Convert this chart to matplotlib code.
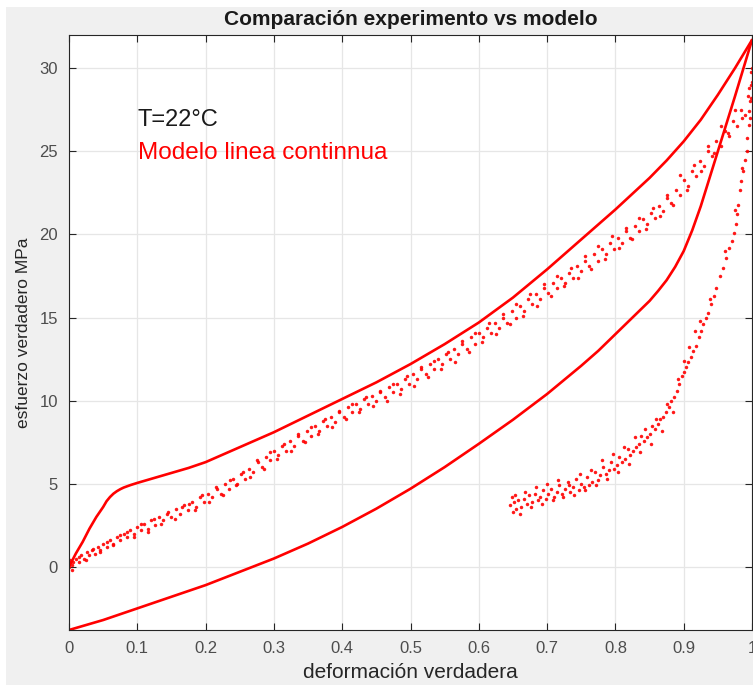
import matplotlib
matplotlib.use("Agg")
import matplotlib.pyplot as plt
from matplotlib.patches import Rectangle

# ---- data ----
model_load_x = [0.0, 0.01, 0.02, 0.03, 0.04, 0.05, 0.055, 0.06, 0.065, 0.07, 0.075, 0.08,
                0.09, 0.10, 0.125, 0.15, 0.175, 0.20, 0.25, 0.30, 0.35, 0.40, 0.45, 0.50,
                0.55, 0.60, 0.65, 0.70, 0.75, 0.80, 0.85, 0.875, 0.90, 0.925, 0.95, 0.975, 1.00]
model_load_y = [0.0, 0.8, 1.5, 2.3, 3.0, 3.6, 3.95, 4.2, 4.4, 4.55, 4.67, 4.77,
                4.92, 5.05, 5.35, 5.65, 5.95, 6.3, 7.2, 8.1, 9.1, 10.1, 11.1, 12.2,
                13.4, 14.7, 16.2, 17.9, 19.7, 21.5, 23.4, 24.45, 25.6, 26.9, 28.4, 30.0, 31.7]

model_unload_x = [1.00, 0.975, 0.95, 0.925, 0.9125, 0.90, 0.8875, 0.875, 0.8625, 0.85, 0.825,
                  0.80, 0.775, 0.75, 0.70, 0.65, 0.60, 0.55, 0.50, 0.45, 0.40, 0.35, 0.30,
                  0.25, 0.20, 0.15, 0.10, 0.05, 0.0]
model_unload_y = [31.7, 28.3, 25.0, 21.7, 20.25, 19.0, 18.05, 17.25, 16.6, 16.0, 15.0,
                  14.0, 13.0, 12.1, 10.4, 8.85, 7.4, 6.0, 4.7, 3.5, 2.4, 1.4, 0.5,
                  -0.3, -1.1, -1.8, -2.5, -3.2, -3.8]

exp_load = [
    (0.000, 0.0), (0.002, 0.4), (0.004, -0.2), (0.006, 0.3), (0.010, 0.5), (0.014, 0.3),
    (0.018, 0.7), (0.022, 0.5), (0.026, 0.9), (0.030, 0.7), (0.034, 1.0), (0.038, 0.8),
    (0.042, 1.2), (0.046, 1.0), (0.050, 1.4), (0.055, 1.2), (0.060, 1.6), (0.065, 1.4),
    (0.070, 1.8), (0.075, 1.6), (0.080, 2.0), (0.085, 1.8), (0.090, 2.2), (0.095, 2.0),
    (0.100, 2.4), (0.105, 2.2), (0.110, 2.6), (0.115, 2.3), (0.120, 2.8), (0.126, 2.5),
    (0.132, 3.0), (0.138, 2.8), (0.144, 3.2), (0.150, 3.0), (0.156, 3.5), (0.162, 3.2),
    (0.168, 3.7), (0.174, 3.4), (0.180, 3.9), (0.186, 3.6), (0.192, 4.2), (0.198, 3.9),
    (0.204, 4.4), (0.210, 4.2), (0.216, 4.7), (0.222, 4.4), (0.228, 5.0), (0.234, 4.7),
    (0.240, 5.3), (0.246, 5.0), (0.252, 5.6), (0.258, 5.3), (0.264, 5.9), (0.270, 5.7),
    (0.276, 6.3), (0.282, 6.0), (0.288, 6.6), (0.294, 6.4), (0.300, 7.0), (0.306, 6.7),
    (0.312, 7.3), (0.318, 7.0), (0.324, 7.6), (0.330, 7.3), (0.336, 7.9), (0.342, 7.6),
    (0.348, 8.2), (0.354, 7.9), (0.360, 8.5), (0.366, 8.2), (0.372, 8.8), (0.378, 8.5),
    (0.384, 9.0), (0.390, 8.7), (0.396, 9.3), (0.402, 9.0), (0.408, 9.6), (0.414, 9.3),
    (0.420, 9.8), (0.426, 9.5), (0.432, 10.1), (0.438, 9.8), (0.444, 10.3), (0.450, 10.0),
    (0.456, 10.5), (0.462, 10.2), (0.468, 10.8), (0.474, 10.5), (0.480, 11.0), (0.486, 10.7),
    (0.492, 11.3), (0.498, 11.0), (0.504, 11.6), (0.510, 11.3), (0.516, 11.9), (0.522, 11.6),
    (0.528, 12.2), (0.534, 11.9), (0.540, 12.5), (0.546, 12.2), (0.552, 12.8), (0.558, 12.5),
    (0.564, 13.1), (0.570, 12.8), (0.576, 13.4), (0.582, 13.1), (0.588, 13.8), (0.594, 13.4),
    (0.600, 14.1), (0.606, 13.8), (0.612, 14.4), (0.618, 14.1), (0.624, 14.7), (0.630, 14.4),
    (0.636, 15.0), (0.642, 14.7), (0.648, 15.4), (0.654, 15.0), (0.660, 15.7), (0.666, 15.4),
    (0.672, 16.1), (0.678, 15.8), (0.684, 16.4), (0.690, 16.1), (0.696, 16.8), (0.702, 16.5),
    (0.708, 17.1), (0.714, 16.8), (0.720, 17.4), (0.726, 17.1), (0.732, 17.7), (0.738, 17.4),
    (0.744, 18.1), (0.750, 17.8), (0.756, 18.4), (0.762, 18.1), (0.768, 18.8), (0.774, 18.4),
    (0.780, 19.1), (0.786, 18.8), (0.792, 19.5), (0.798, 19.1), (0.804, 19.8), (0.810, 19.5),
    (0.816, 20.2), (0.822, 19.8), (0.828, 20.5), (0.834, 20.2), (0.840, 20.9), (0.846, 20.6),
    (0.852, 21.3), (0.858, 21.0), (0.864, 21.7), (0.870, 21.4), (0.876, 22.2), (0.882, 21.9),
    (0.888, 22.7), (0.894, 22.4), (0.900, 23.3), (0.906, 22.9), (0.912, 23.8), (0.918, 23.5),
    (0.924, 24.4), (0.930, 24.1), (0.936, 25.0), (0.942, 24.7), (0.948, 25.6), (0.954, 25.3),
    (0.960, 26.2), (0.966, 25.9), (0.972, 26.8), (0.978, 26.5), (0.984, 27.5), (0.990, 27.2),
    (0.994, 28.3), (0.997, 28.0), (1.000, 29.2), (0.999, 29.8),
]

exp_load_extra = [
    (0.005, 0.1), (0.015, 0.6), (0.025, 0.4), (0.035, 1.1), (0.045, 0.9), (0.055, 1.5),
    (0.065, 1.3), (0.075, 1.9), (0.085, 2.1), (0.095, 1.8), (0.105, 2.6), (0.115, 2.1),
    (0.125, 2.9), (0.135, 2.6), (0.145, 3.3), (0.155, 2.9), (0.165, 3.6), (0.175, 3.8),
    (0.185, 3.4), (0.195, 4.3), (0.205, 3.9), (0.215, 4.8), (0.225, 4.3), (0.235, 5.2),
    (0.245, 4.9), (0.255, 5.7), (0.265, 5.4), (0.275, 6.4), (0.285, 5.9), (0.295, 6.9),
    (0.305, 6.5), (0.315, 7.4), (0.325, 7.0), (0.335, 8.0), (0.345, 7.5), (0.355, 8.4),
    (0.365, 8.0), (0.375, 8.9), (0.385, 8.4), (0.395, 9.4), (0.405, 8.9), (0.415, 9.8),
    (0.425, 9.3), (0.435, 10.2), (0.445, 9.7), (0.455, 10.6), (0.465, 10.0), (0.475, 11.0),
    (0.485, 10.4), (0.495, 11.5), (0.505, 10.9), (0.515, 12.0), (0.525, 11.4), (0.535, 12.4),
    (0.545, 11.9), (0.555, 12.9), (0.565, 12.3), (0.575, 13.6), (0.585, 12.9), (0.595, 14.1),
    (0.605, 13.5), (0.615, 14.7), (0.625, 14.0), (0.635, 15.2), (0.645, 14.6), (0.655, 15.8),
    (0.665, 15.1), (0.675, 16.4), (0.685, 15.7), (0.695, 17.0), (0.705, 16.3), (0.715, 17.5),
    (0.725, 16.9), (0.735, 18.0), (0.745, 17.4), (0.755, 18.7), (0.765, 17.9), (0.775, 19.3),
    (0.785, 18.5), (0.795, 19.9), (0.805, 19.2), (0.815, 20.4), (0.825, 19.7), (0.835, 21.0),
    (0.845, 20.3), (0.855, 21.6), (0.865, 21.1), (0.875, 22.4), (0.885, 21.8), (0.895, 23.6),
    (0.905, 22.7), (0.915, 24.2), (0.925, 23.8), (0.935, 25.3), (0.945, 24.9), (0.955, 26.5),
    (0.965, 26.1), (0.975, 27.5), (0.985, 27.0), (0.995, 28.8),
]

exp_unload = [
    (1.000, 30.0), (0.999, 29.0), (0.998, 28.2), (0.996, 27.4), (0.995, 26.6), (0.993, 25.8),
    (0.992, 25.0), (0.990, 24.5), (0.987, 23.8), (0.984, 23.2), (0.982, 22.7), (0.980, 21.8),
    (0.978, 21.2), (0.976, 20.6), (0.973, 20.1), (0.970, 19.6), (0.966, 19.2), (0.962, 18.6),
    (0.957, 18.0), (0.953, 17.5), (0.948, 16.8), (0.945, 16.3), (0.940, 15.8), (0.936, 15.3),
    (0.932, 15.0), (0.928, 14.6), (0.926, 14.2), (0.922, 13.8), (0.918, 13.3), (0.914, 13.0),
    (0.910, 12.6), (0.906, 12.3), (0.903, 12.0), (0.900, 11.7), (0.897, 11.5), (0.893, 11.0),
    (0.890, 10.6), (0.886, 10.2), (0.882, 10.0), (0.878, 9.6), (0.874, 9.3), (0.870, 9.0),
    (0.866, 8.9), (0.862, 8.6), (0.858, 8.3), (0.854, 8.5), (0.850, 8.0), (0.846, 7.8),
    (0.842, 7.6), (0.838, 7.9), (0.834, 7.4), (0.830, 7.2), (0.826, 7.0), (0.822, 6.7),
    (0.818, 7.1), (0.814, 6.5), (0.810, 6.3), (0.806, 6.6), (0.802, 6.1), (0.798, 5.9),
    (0.794, 6.3), (0.790, 5.8), (0.786, 5.6), (0.782, 6.0), (0.778, 5.5), (0.774, 5.2),
    (0.770, 5.7), (0.766, 5.1), (0.762, 4.9), (0.758, 5.4), (0.754, 4.8), (0.750, 5.0),
    (0.746, 4.6), (0.742, 5.3), (0.738, 4.8), (0.734, 4.5), (0.730, 5.1), (0.726, 4.7),
    (0.722, 4.4), (0.718, 4.9), (0.714, 4.5), (0.710, 4.2), (0.706, 4.7), (0.702, 4.4),
    (0.698, 4.1), (0.694, 4.6), (0.690, 4.2), (0.686, 4.0), (0.682, 4.4), (0.678, 3.9),
    (0.674, 4.3), (0.670, 3.8), (0.666, 4.1), (0.662, 3.6), (0.658, 4.0), (0.655, 3.5),
    (0.652, 3.9), (0.650, 3.3), (0.648, 4.2), (0.646, 3.7),
]

exp_unload_extra = [
    (0.653, 4.3), (0.660, 3.2), (0.668, 4.5), (0.676, 3.6), (0.684, 4.8), (0.692, 3.8),
    (0.700, 5.0), (0.708, 4.0), (0.716, 5.2), (0.724, 4.2), (0.732, 4.9), (0.740, 4.3),
    (0.748, 5.6), (0.756, 4.6), (0.764, 5.8), (0.772, 4.9), (0.780, 6.4), (0.788, 5.3),
    (0.796, 6.8), (0.804, 5.7), (0.812, 7.2), (0.820, 6.2), (0.828, 7.8), (0.836, 6.9),
    (0.844, 8.3), (0.852, 7.4), (0.860, 8.9), (0.868, 8.2), (0.876, 9.8), (0.884, 9.3),
    (0.892, 11.3), (0.900, 12.4), (0.908, 13.2), (0.916, 14.2), (0.924, 14.8), (0.938, 16.1),
    (0.960, 19.0), (0.975, 21.5), (0.986, 24.0), (0.997, 27.0),
]

x_ticks = [0, 0.1, 0.2, 0.3, 0.4, 0.5, 0.6, 0.7, 0.8, 0.9, 1.0]
x_tick_labels = ["0", "0.1", "0.2", "0.3", "0.4", "0.5", "0.6", "0.7", "0.8", "0.9", "1"]
y_ticks = [0, 5, 10, 15, 20, 25, 30]

title = "Comparación experimento vs modelo"
xlabel = "deformación verdadera"
ylabel = "esfuerzo verdadero MPa"

# ---- figure ----
plt.rcParams['font.family'] = ['Liberation Sans', 'DejaVu Sans']
fig = plt.figure(figsize=(7.53, 6.85), dpi=100, facecolor='white')
fig.patches.append(Rectangle((6 / 753, 0), 1, 1 - 7 / 685, transform=fig.transFigure,
                             facecolor='#f0f0f0', edgecolor='none', zorder=-10))
ax = fig.add_axes([69 / 753, 1 - 630 / 685, 683 / 753, 595 / 685])
ax.set_facecolor('white')

red = '#ff0000'
ax.plot(model_load_x, model_load_y, color=red, lw=1.9, solid_capstyle='round',
        solid_joinstyle='round')
ax.plot(model_unload_x, model_unload_y, color=red, lw=1.9, solid_capstyle='round',
        solid_joinstyle='round')
for pts in (exp_load, exp_load_extra, exp_unload, exp_unload_extra):
    ax.plot([p[0] for p in pts], [p[1] for p in pts], 'o', color=red, ms=2.5,
            mec='none', alpha=0.9)

ax.text(0.101, 26.9, "T=22°C", fontsize=17, color='#1a1a1a', va='center', ha='left')
ax.text(0.101, 24.9, "Modelo linea continnua", fontsize=17.5, color=red, va='center', ha='left')

ax.set_xlim(0, 1)
ax.set_ylim(-3.8, 32)
ax.set_xticks(x_ticks)
ax.set_xticklabels(x_tick_labels)
ax.set_yticks(y_ticks)
ax.grid(True, color='#e6e6e6', lw=0.9)
ax.set_axisbelow(True)
ax.tick_params(direction='in', top=True, right=True, length=5, width=0.8,
               colors='#262626', labelcolor='#4d4d4d', labelsize=12, pad=8)
for s in ax.spines.values():
    s.set_color('#262626')
    s.set_linewidth(0.8)

ax.set_title(title, fontsize=15, fontweight='bold', color='#1a1a1a', pad=7)
ax.set_xlabel(xlabel, fontsize=15, color='#262626', labelpad=5)
ax.set_ylabel(ylabel, fontsize=12.5, color='#262626', labelpad=6)

fig.savefig('out.png', dpi=100, facecolor=fig.get_facecolor())
